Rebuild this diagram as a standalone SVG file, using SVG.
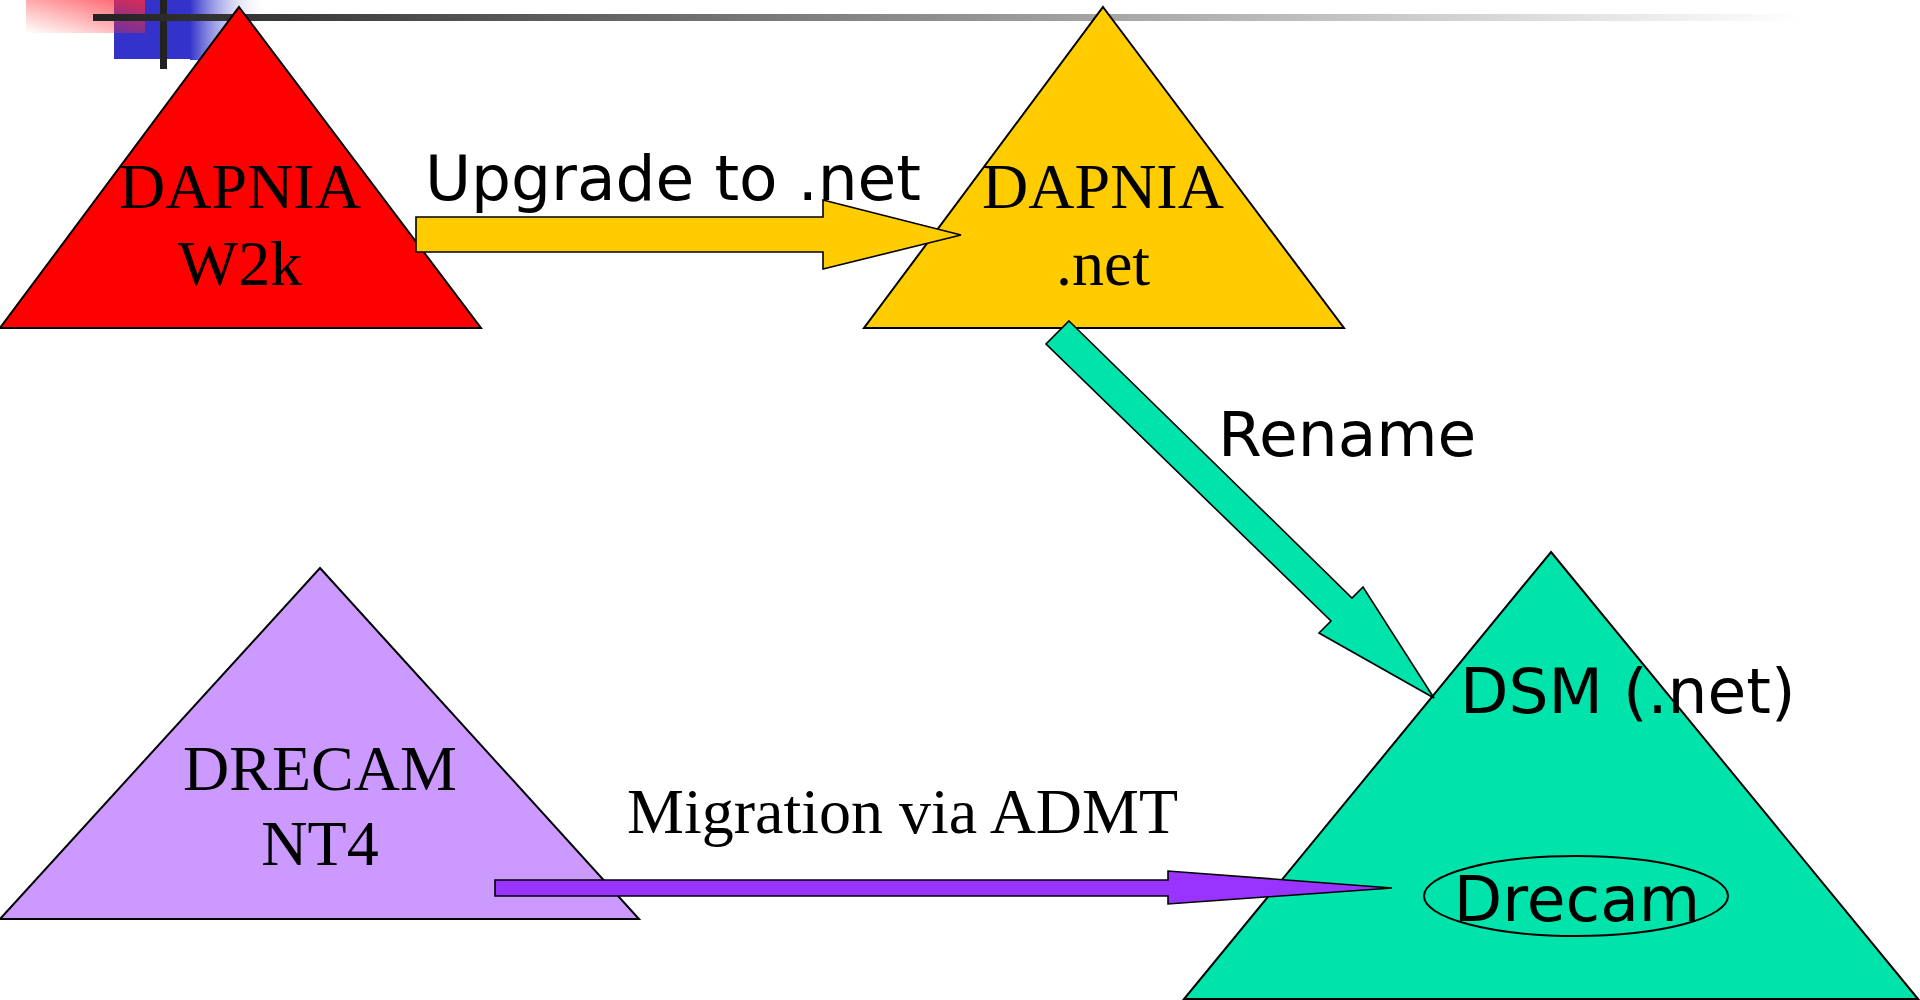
<svg xmlns="http://www.w3.org/2000/svg" width="1920" height="1000" viewBox="0 0 1920 1000">
  <defs>
    <linearGradient id="lineGrad" x1="93" y1="0" x2="1802" y2="0" gradientUnits="userSpaceOnUse">
      <stop offset="0" stop-color="#222222"/>
      <stop offset="1" stop-color="#ffffff"/>
    </linearGradient>
    <linearGradient id="blueGrad" x1="0" y1="0" x2="1" y2="0">
      <stop offset="0" stop-color="#3333cc"/>
      <stop offset="1" stop-color="#ffffff" stop-opacity="0"/>
    </linearGradient>
    <linearGradient id="pinkGrad" x1="0" y1="1" x2="1" y2="0">
      <stop offset="0" stop-color="#ff3333" stop-opacity="0"/>
      <stop offset="1" stop-color="#ff2a3a" stop-opacity="0.8"/>
    </linearGradient>
    <style>
      .tri { stroke: #000; stroke-width: 2; stroke-linejoin: miter; }
      .arrow { stroke: #000; stroke-width: 1.6; stroke-linejoin: miter; }
      .serif { font-family: "Liberation Serif", "Times New Roman", serif; font-size: 64px; fill: #000; }
      .sans { font-family: "DejaVu Sans", Verdana, sans-serif; font-size: 63px; fill: #000; }
    </style>
  </defs>

  <rect x="0" y="0" width="1920" height="1000" fill="#ffffff"/>

  <g id="header">
    <rect x="114" y="0" width="77" height="59" fill="#3333cc"/>
    <rect x="190" y="0" width="78" height="60" fill="url(#blueGrad)"/>
    <rect x="26" y="0" width="119" height="33" fill="url(#pinkGrad)"/>
    <rect x="160" y="0" width="7" height="69" fill="#222222"/>
    <rect x="93" y="14" width="1709" height="7" fill="url(#lineGrad)"/>
  </g>

  <g id="node-dapnia-w2k">
    <polygon class="tri" points="239,7 481,328 0,328" fill="#ff0000"/>
    <text class="serif" x="240" y="208" text-anchor="middle">DAPNIA</text>
    <text class="serif" x="240" y="285" text-anchor="middle">W2k</text>
  </g>

  <g id="node-dapnia-net">
    <polygon class="tri" points="1103,7 1344,328 864,328" fill="#ffcc00"/>
    <text class="serif" x="1103" y="208" text-anchor="middle">DAPNIA</text>
    <text class="serif" x="1103" y="285" text-anchor="middle">.net</text>
  </g>

  <g id="node-drecam-nt4">
    <polygon class="tri" points="320,568 639,919 0,919" fill="#cc99ff"/>
    <text class="serif" x="320" y="790" text-anchor="middle">DRECAM</text>
    <text class="serif" x="320" y="865" text-anchor="middle">NT4</text>
  </g>

  <g id="node-dsm">
    <polygon class="tri" points="1551,552 1918,999 1184,999" fill="#00e3aa"/>
    <text class="sans" x="1460" y="713">DSM (.net)</text>
    <ellipse cx="1576" cy="896" rx="152" ry="40" fill="none" stroke="#000" stroke-width="2"/>
    <text class="sans" x="1577" y="921" text-anchor="middle">Drecam</text>
  </g>

  <g id="connectors">
    <polygon id="arrow-upgrade" class="arrow" fill="#ffcc00"
      points="416,217 823,217 823,200 961,235 823,269 823,252 416,252"/>
    <polygon id="arrow-rename" class="arrow" fill="#00e3aa"
      points="1069,321 1352,598 1363,587 1434,698 1319,633 1331,621 1046,344"/>
    <polygon id="arrow-migration" class="arrow" fill="#9933ff"
      points="495,880 1168,880 1168,871 1392,888 1168,904 1168,896 495,896"/>
    <text class="sans" x="425" y="200">Upgrade to .net</text>
    <text class="sans" x="1218" y="456">Rename</text>
    <text class="serif" x="627" y="833">Migration via ADMT</text>
  </g>
</svg>
